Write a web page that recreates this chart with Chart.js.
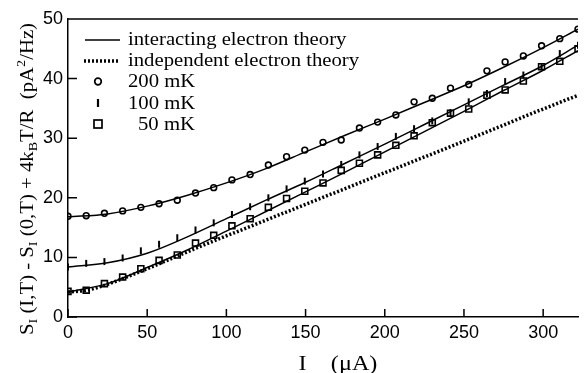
<!DOCTYPE html>
<html>
<head>
<meta charset="utf-8">
<script src="https://cdn.jsdelivr.net/npm/chart.js@4.4.0/dist/chart.umd.min.js"></script>
<style>
html, body { margin: 0; padding: 0; background: #fff; }
canvas { display: block; }
</style>
</head>
<body>
<canvas id="noiseChart" width="584" height="373"></canvas>
<script>
// measured currents (uA) for the data points
const currentUA = [0, 11.5, 23, 34.5, 46, 57.5, 69, 80.5, 92, 103.5, 115, 126.5, 138, 149.5, 161,
    172.5, 184, 195.5, 207, 218.5, 230, 241.5, 253, 264.5, 276, 287.5, 299, 310.5, 322];
const data200mK = [16.9, 17.0, 17.4, 17.8, 18.4, 19.0, 19.6, 20.8, 21.7, 23.0, 23.9, 25.5, 26.9, 28.0, 29.3,
    29.7, 31.7, 32.7, 33.9, 36.1, 36.7, 38.4, 39.0, 41.3, 42.8, 43.8, 45.5, 46.7, 48.3];
const data100mK = [8.4, 9.0, 9.3, 9.9, 11.1, 12.2, 13.3, 14.6, 15.8, 17.2, 18.5, 20.0, 21.5, 22.8, 24.0,
    25.6, 27.2, 28.6, 30.3, 31.6, 32.9, 34.3, 36.1, 37.5, 39.5, 40.6, 42.0, 44.2, 45.6];
const data50mK = [4.3, 4.5, 5.6, 6.7, 8.1, 9.5, 10.4, 12.4, 13.7, 15.3, 16.5, 18.4, 19.9, 21.1, 22.5,
    24.6, 25.8, 27.2, 28.8, 30.4, 32.6, 34.2, 34.9, 37.2, 38.1, 39.6, 42.0, 42.9, 45.0];

// theory curves
const theoryUA = [0, 25, 50, 75, 100, 125, 150, 175, 200, 225, 250, 275, 300, 322];
const theory200mK = [16.8, 17.3, 18.6, 20.4, 22.5, 24.9, 27.7, 30.5, 33.2, 36.0, 38.8, 41.9, 45.2, 48.3];
const theory100mK = [8.4, 9.1, 10.7, 13.4, 16.5, 19.6, 22.6, 25.8, 29.0, 32.3, 35.6, 38.9, 42.2, 45.6];
const theory50mK = [4.2, 5.6, 8.3, 11.2, 14.4, 17.7, 21.0, 24.3, 27.7, 31.1, 34.5, 38.0, 41.4, 44.7];
const indepUA = [0, 12, 25, 50, 75, 100, 150, 200, 250, 300, 322];
const indepTheory = [4.2, 4.5, 5.5, 8.1, 10.9, 13.6, 18.9, 24.2, 29.5, 34.9, 37.2];

const xTicks = [0, 50, 100, 150, 200, 250, 300];
const yTicks = [0, 10, 20, 30, 40, 50];

const SERIF = '"Liberation Serif", "Times New Roman", serif';
const SANS = '"Liberation Sans", Arial, sans-serif';

function toPoints(xs, ys) {
    return xs.map((x, i) => ({ x: x, y: ys[i] }));
}

function curve(xs, ys) {
    return {
        data: toPoints(xs, ys),
        showLine: true,
        borderColor: '#000',
        borderWidth: 1.5,
        pointRadius: 0,
        cubicInterpolationMode: 'monotone'
    };
}

function serifText(ctx, text, x, y, size, stretch, align) {
    ctx.save();
    ctx.translate(x, y);
    ctx.scale(stretch, 1);
    ctx.font = size + 'px ' + SERIF;
    ctx.textAlign = align || 'left';
    ctx.textBaseline = 'alphabetic';
    ctx.fillStyle = '#000';
    ctx.fillText(text, 0, 0);
    ctx.restore();
}

// y title with subscripts, drawn along a rotated baseline
function drawYTitle(ctx, x, yStart, length) {
    const parts = [
        ['S', 0], ['I', 1], [' (I,T) - S', 0], ['I', 1], [' (0,T) + 4k', 0], ['B', 1],
        ['T/R  (pA', 0], ['2', 2], ['/Hz)', 0]
    ];
    const font = m => (m === 0 ? 19 : 13) + 'px ' + SERIF;
    let total = 0;
    parts.forEach(p => { ctx.font = font(p[1]); total += ctx.measureText(p[0]).width; });
    ctx.save();
    ctx.translate(x, yStart);
    ctx.rotate(-Math.PI / 2);
    ctx.scale(length / total, 1);
    ctx.fillStyle = '#000';
    ctx.textBaseline = 'alphabetic';
    let pos = 0;
    parts.forEach(p => {
        ctx.font = font(p[1]);
        const dy = p[1] === 1 ? 4 : (p[1] === 2 ? -8 : 0);
        ctx.fillText(p[0], pos, dy);
        pos += ctx.measureText(p[0]).width;
    });
    ctx.restore();
}

const decorations = {
    id: 'decorations',
    afterDraw(chart) {
        const { ctx, chartArea: area, scales: { x, y } } = chart;
        ctx.save();
        ctx.strokeStyle = '#000';
        ctx.lineWidth = 1.5;
        ctx.beginPath();
        ctx.moveTo(area.left, area.top);
        ctx.lineTo(area.right, area.top);
        // ticks point inward
        yTicks.forEach(v => {
            const py = y.getPixelForValue(v);
            ctx.moveTo(area.left, py);
            ctx.lineTo(area.left + 9, py);
        });
        xTicks.forEach(v => {
            const px = x.getPixelForValue(v);
            ctx.moveTo(px, area.bottom);
            ctx.lineTo(px, area.bottom - 8);
        });
        ctx.stroke();

        // legend
        const lx = area.left + 17, tx = area.left + 60;
        ctx.beginPath();
        ctx.moveTo(lx, 40); ctx.lineTo(lx + 35, 40);
        ctx.stroke();
        ctx.save();
        ctx.lineWidth = 3.5;
        ctx.setLineDash([2, 2]);
        ctx.beginPath();
        ctx.moveTo(lx - 1, 61); ctx.lineTo(lx + 35, 61);
        ctx.stroke();
        ctx.restore();
        const mx = lx + 13;
        ctx.lineWidth = 1.7;
        ctx.beginPath();
        ctx.arc(mx, 81.5, 3.3, 0, Math.PI * 2);
        ctx.stroke();
        ctx.lineWidth = 2.2;
        ctx.beginPath();
        ctx.moveTo(mx, 99); ctx.lineTo(mx, 107);
        ctx.stroke();
        ctx.lineWidth = 1.7;
        ctx.strokeRect(mx - 4, 120, 8, 8);

        serifText(ctx, 'interacting electron theory', tx, 45, 18, 1.15);
        serifText(ctx, 'independent electron theory', tx, 66, 18, 1.15);
        serifText(ctx, '200 mK', tx, 87, 18, 1.15);
        serifText(ctx, '100 mK', tx, 109, 18, 1.15);
        serifText(ctx, '50 mK', tx + 10, 130, 18, 1.15);

        // axis titles
        serifText(ctx, 'I    (\u03bcA)', 338, 370, 22, 1.1, 'center');
        drawYTitle(ctx, 33, 335, 312);
        ctx.restore();
    }
};

const ctx = document.getElementById('noiseChart').getContext('2d');
new Chart(ctx, {
    type: 'scatter',
    data: {
        datasets: [
            Object.assign(curve(theoryUA, theory200mK), { label: 'interacting electron theory' }),
            curve(theoryUA, theory100mK),
            curve(theoryUA, theory50mK),
            Object.assign(curve(indepUA, indepTheory), {
                label: 'independent electron theory',
                borderWidth: 3.5,
                borderDash: [2, 2],
                borderCapStyle: 'butt'
            }),
            {
                label: '200 mK',
                data: toPoints(currentUA, data200mK),
                pointStyle: 'circle',
                pointRadius: 2.9,
                pointBorderWidth: 1.6,
                borderColor: '#000',
                backgroundColor: 'rgba(0,0,0,0)'
            },
            {
                label: '100 mK',
                data: toPoints(currentUA, data100mK),
                pointStyle: 'line',
                pointRotation: 90,
                pointRadius: 3.5,
                pointBorderWidth: 2,
                borderColor: '#000'
            },
            {
                label: '50 mK',
                data: toPoints(currentUA, data50mK),
                pointStyle: 'rect',
                pointRadius: 4.2,
                pointBorderWidth: 1.6,
                borderColor: '#000',
                backgroundColor: 'rgba(0,0,0,0)'
            }
        ]
    },
    options: {
        responsive: false,
        animation: false,
        layout: { padding: { top: 19, right: 0, left: 0, bottom: 0 } },
        plugins: {
            legend: { display: false },
            tooltip: { enabled: false }
        },
        scales: {
            x: {
                type: 'linear',
                min: 0,
                max: 322,
                grid: { display: false, drawTicks: false },
                border: { color: '#000', width: 1.5 },
                ticks: {
                    stepSize: 50,
                    includeBounds: false,
                    padding: 5,
                    color: '#000',
                    font: { family: SANS, size: 18 }
                },
                afterFit: s => { s.height = 56; }
            },
            y: {
                min: 0,
                max: 50,
                grid: { display: false, drawTicks: false },
                border: { color: '#000', width: 1.5 },
                ticks: {
                    stepSize: 10,
                    padding: 5,
                    color: '#000',
                    font: { family: SANS, size: 18 }
                },
                afterFit: s => { s.width = 68; }
            }
        }
    },
    plugins: [decorations]
});
</script>
</body>
</html>
